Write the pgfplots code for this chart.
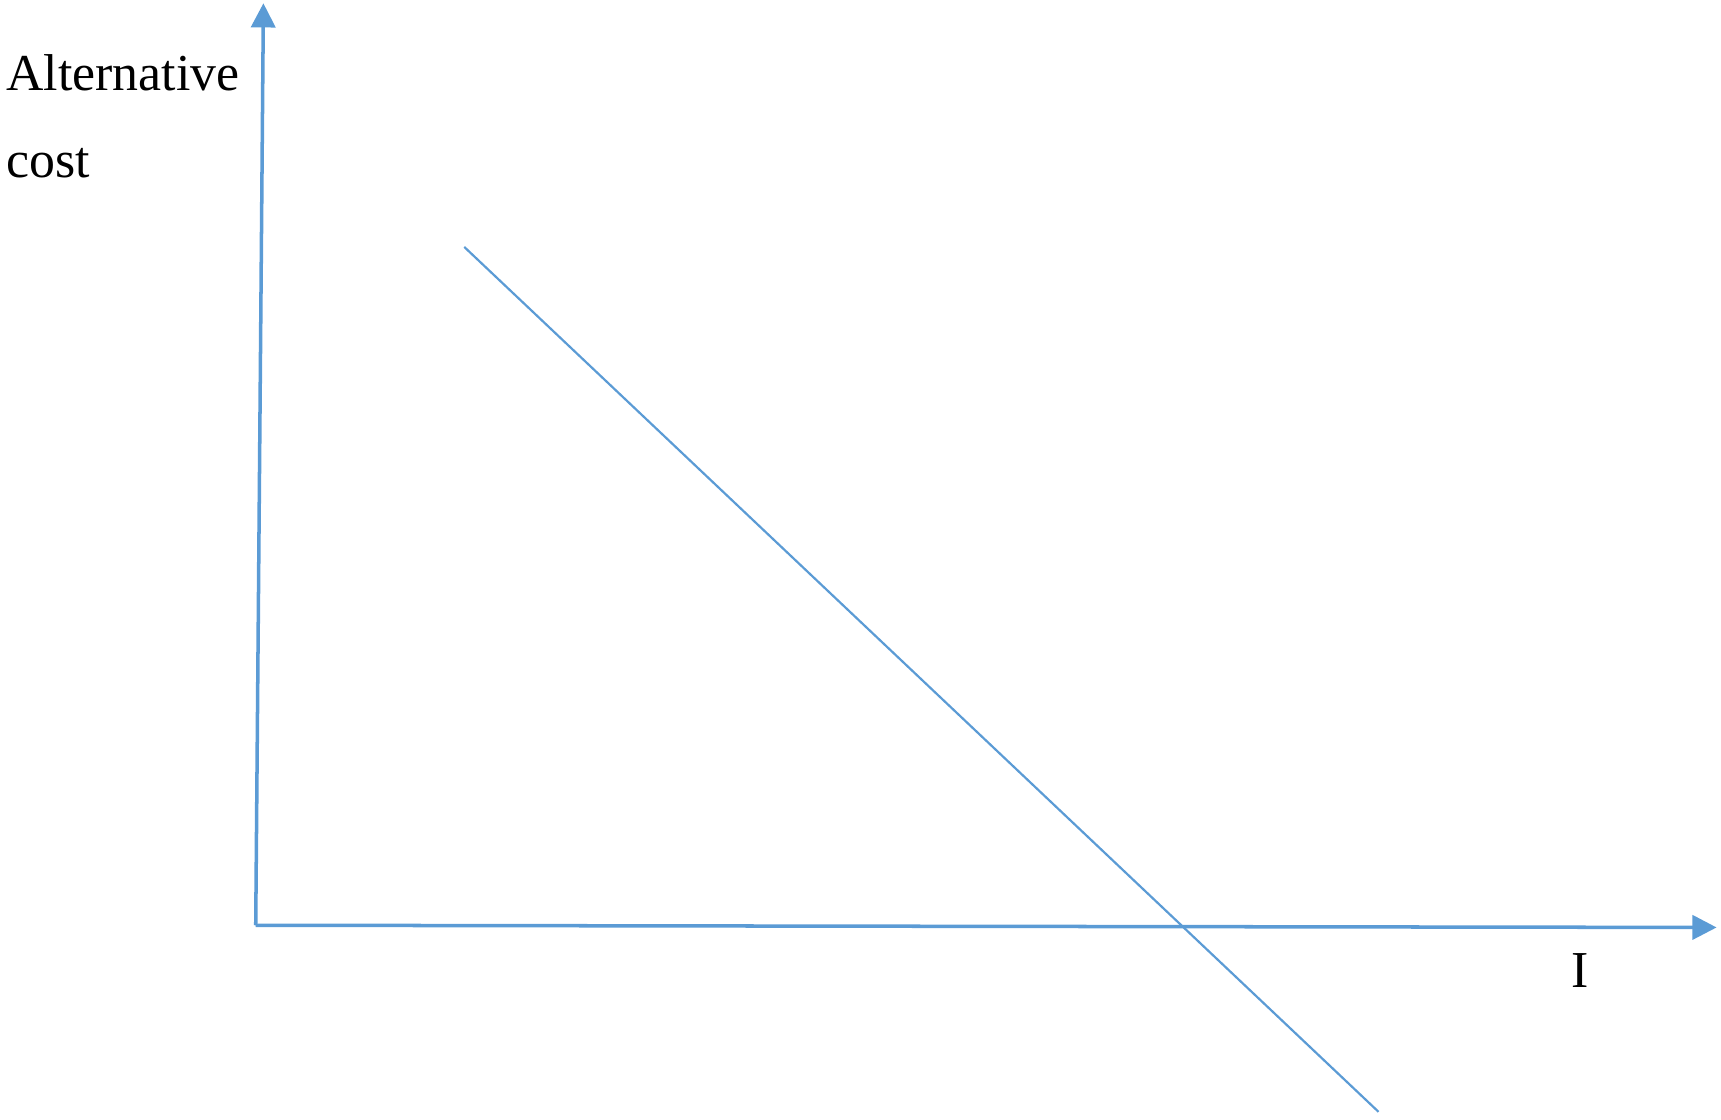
\documentclass[border=0pt]{standalone}
\usepackage{pgfplots}
\pgfplotsset{compat=1.18}
\usepackage{fontspec}
\setmainfont{Liberation Serif}
\usetikzlibrary{arrows.meta}
\definecolor{officeblue}{RGB}{91,155,213}
\begin{document}
\begin{tikzpicture}
\begin{axis}[
    scale only axis,
    width=332.25pt, height=209.5pt,
    xmin=0, xmax=1329, ymin=0, ymax=838,
    axis lines=none,
    clip=false,
    ]
% the falling line
\addplot[officeblue, line width=0.5pt, no marks] coordinates {(190,618) (1023,-170)};
% axes with arrow heads
\draw[officeblue, line width=0.8pt, -{Triangle[length=5.5pt,width=5.5pt]}]
    (axis cs:0,0) -- (axis cs:7,840);
\draw[officeblue, line width=0.8pt, -{Triangle[length=5.5pt,width=5.5pt]}]
    (axis cs:0,0) -- (axis cs:1331,-2);
\node[anchor=base west, inner sep=0pt, font=\fontsize{11.8}{14}\selectfont] at (axis cs:-228,761) {Alternative};
\node[anchor=base west, inner sep=0pt, font=\fontsize{11.8}{14}\selectfont] at (axis cs:-228,681) {cost};
\node[anchor=base, inner sep=0pt, font=\fontsize{11.8}{14}\selectfont] at (axis cs:1207,-57) {I};
% picture frame
\path (axis cs:-233,-177) rectangle (axis cs:1335,843);
\end{axis}
\end{tikzpicture}
\end{document}
